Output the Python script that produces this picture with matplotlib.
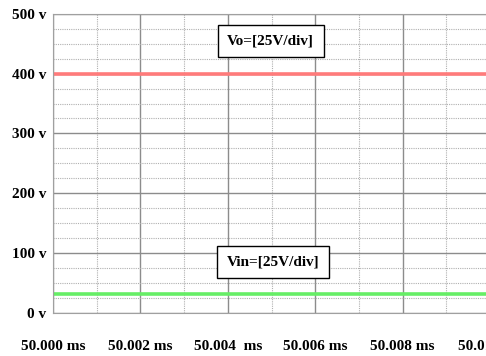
import numpy as np
import matplotlib.pyplot as plt
from matplotlib.ticker import MultipleLocator

# time axis (ms) and the two DC levels (V)
t_ms = [50.000, 50.010]
vo = [400, 400]
vin = [30.5, 30.5]

xticks = [50.000, 50.002, 50.004, 50.006, 50.008, 50.010]
xlabels = ['50.000 ms', '50.002 ms', '50.004  ms', '50.006 ms', '50.008 ms', '50.010 ms']
yticks = [0, 100, 200, 300, 400, 500]
ylabels = ['0 v', '100 v', '200 v', '300 v', '400 v', '500 v']

plt.rcParams['font.family'] = ['Liberation Serif', 'DejaVu Serif']
plt.rcParams['font.weight'] = 'bold'

fig = plt.figure(figsize=(4.86, 3.56), dpi=100)
# axes runs a bit past the right edge so the last tick label is cut like the original
ax = fig.add_axes([53/486, (356-312.5)/356, 437/486, 298.5/356])

ax.plot(t_ms, vo, color='#ff7b7b', lw=2.6, solid_capstyle='butt')
ax.plot(t_ms, vin, color='#66ee66', lw=2.6, solid_capstyle='butt')

ax.set_xlim(50.000, 50.010)
ax.set_ylim(0, 500)
ax.set_xticks(xticks)
ax.set_xticklabels(xlabels)
ax.set_yticks(yticks)
ax.set_yticklabels(ylabels)
ax.xaxis.set_minor_locator(MultipleLocator(0.001))
ax.yaxis.set_minor_locator(MultipleLocator(25))

ax.grid(which='major', color='#8c8c8c', lw=1.0, ls='-')
ax.grid(which='minor', color='#b0b0b0', lw=0.8, ls=(0, (1, 1)))
ax.set_axisbelow(True)

ax.tick_params(which='both', length=0)
ax.tick_params(axis='x', pad=20, labelsize=11)
ax.tick_params(axis='y', pad=5, labelsize=11)

for s in ['left', 'bottom', 'top']:
    ax.spines[s].set_color('#a0a0a0')
ax.spines['right'].set_visible(False)

box = dict(boxstyle='square,pad=0.62', fc='white', ec='black', lw=1.0)
ax.text(50.00498, 455, 'Vo=[25V/div]', fontsize=11, ha='center', va='center', bbox=box)
ax.text(50.00503, 84, 'Vin=[25V/div]', fontsize=11, ha='center', va='center', bbox=box)

fig.savefig('out.png', dpi=100)
